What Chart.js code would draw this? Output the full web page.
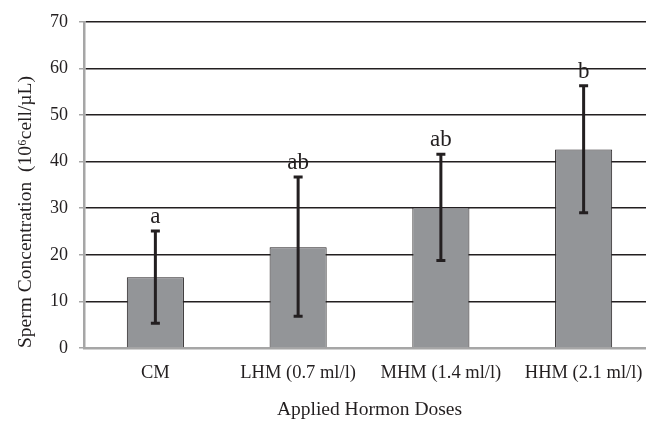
<!DOCTYPE html>
<html>
<head>
<meta charset="utf-8">
<script src="https://cdn.jsdelivr.net/npm/chart.js@4/dist/chart.umd.min.js"></script>
<style>
html,body{margin:0;padding:0;background:#fff;overflow:hidden;width:646px;height:423px;}
#wrap{width:660px;height:423px;}
</style>
</head>
<body>
<div id="wrap"><canvas id="c" width="660" height="423"></canvas></div>
<script>
const categories = ['CM', 'LHM (0.7 ml/l)', 'MHM (1.4 ml/l)', 'HHM (2.1 ml/l)'];
const means = [15.2, 21.6, 30.2, 42.6];
const errLow = [5.3, 6.8, 18.8, 29.0];
const errHigh = [25.1, 36.7, 41.6, 56.3];
const letters = ['a', 'ab', 'ab', 'b'];
const yTicks = [0, 10, 20, 30, 40, 50, 60, 70];

const TXT = '#231f20';
const SERIF = '"Liberation Serif", "Times New Roman", serif';

const errorBarPlugin = {
  id: 'errorBars',
  afterDatasetsDraw(chart) {
    const ctx = chart.ctx;
    const meta = chart.getDatasetMeta(0);
    const ys = chart.scales.y;
    ctx.save();
    ctx.strokeStyle = TXT;
    ctx.lineWidth = 3;
    meta.data.forEach((bar, i) => {
      const x = bar.x;
      const yTop = ys.getPixelForValue(errHigh[i]);
      const yBot = ys.getPixelForValue(errLow[i]);
      ctx.beginPath();
      ctx.moveTo(x, yTop); ctx.lineTo(x, yBot);
      ctx.moveTo(x - 4.5, yTop); ctx.lineTo(x + 4.5, yTop);
      ctx.moveTo(x - 4.5, yBot); ctx.lineTo(x + 4.5, yBot);
      ctx.stroke();
      ctx.fillStyle = TXT;
      ctx.font = '23px ' + SERIF;
      ctx.textAlign = 'center';
      ctx.textBaseline = 'alphabetic';
      ctx.fillText(letters[i], x, yTop - 8);
    });
    ctx.restore();
  }
};

new Chart(document.getElementById('c'), {
  type: 'bar',
  data: {
    labels: categories,
    datasets: [{
      data: means,
      backgroundColor: '#939598',
      borderColor: TXT,
      borderWidth: 1,
      borderSkipped: 'bottom',
      barPercentage: 0.4,
      categoryPercentage: 1.0
    }]
  },
  options: {
    responsive: false,
    animation: false,
    devicePixelRatio: 1,
    layout: { padding: { top: 17, right: 5, left: 0, bottom: 0 } },
    plugins: { legend: { display: false }, tooltip: { enabled: false } },
    scales: {
      x: {
        grid: { display: false, drawTicks: false },
        border: { display: true, color: '#a6a6a6', width: 2.5 },
        ticks: { color: TXT, font: { family: SERIF, size: 18.5 }, padding: 14, maxRotation: 0, autoSkip: false },
        title: { display: true, text: 'Applied Hormon Doses', color: TXT, font: { family: SERIF, size: 19.5 }, padding: { top: 0, bottom: 1 } },
        afterFit(scale) { scale.height = 75; }
      },
      y: {
        min: 0, max: 70,
        afterBuildTicks(scale) { scale.ticks = yTicks.map(v => ({ value: v })); },
        grid: {
          color: (c) => (c.tick && c.tick.value === 0) ? '#a6a6a6' : TXT,
          lineWidth: 1.5,
          tickColor: '#a6a6a6',
          tickLength: 5
        },
        border: { display: true, color: '#a6a6a6', width: 2.5 },
        ticks: { color: TXT, font: { family: SERIF, size: 18 }, padding: 11 },
        title: { display: true, align: 'start', text: 'Sperm Concentration  (10\u2076cell/\u00b5L)', color: TXT, font: { family: SERIF, size: 19.5 }, padding: { top: 14, bottom: 0 } },
        afterFit(scale) { scale.width = 84; }
      }
    }
  },
  plugins: [errorBarPlugin]
});
</script>
</body>
</html>
